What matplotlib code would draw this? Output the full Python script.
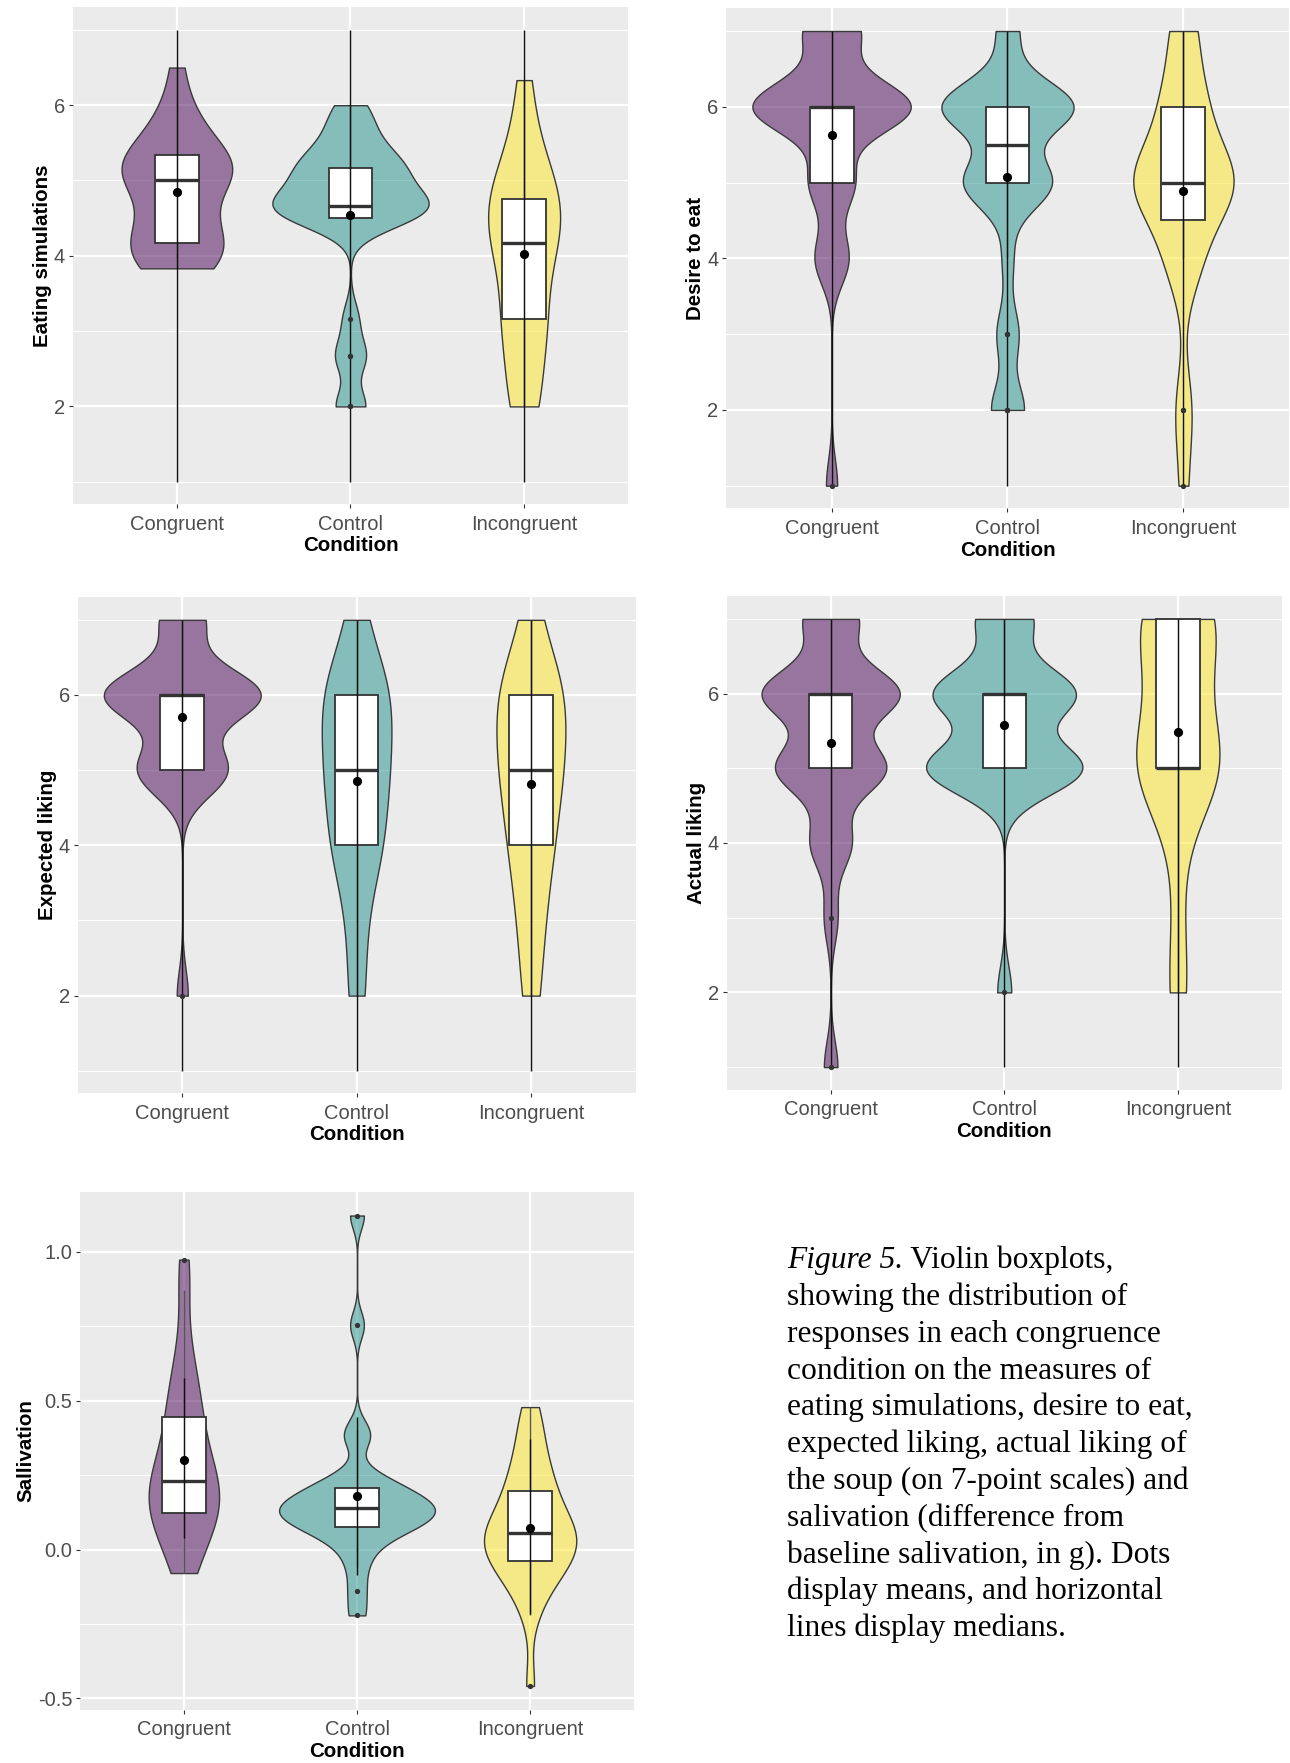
import numpy as np
import matplotlib
matplotlib.use("Agg")
import matplotlib.pyplot as plt
from matplotlib.patches import Rectangle
from matplotlib.colors import to_rgba
from matplotlib.ticker import FixedLocator, FixedFormatter

plt.rcParams["font.family"] = ["Liberation Sans", "DejaVu Sans"]

# ---------------------------------------------------------------- data
conditions = ["Congruent", "Control", "Incongruent"]
violin_fills = ["#440154", "#21908C", "#FDE725"]

# Eating simulations: mean of six items, stored as item sums (sixths)
eating_congruent = np.array([23, 23, 23, 24, 24, 25, 25, 25, 26, 27, 27, 28, 30, 30,
                             30, 30, 31, 31, 31, 32, 32, 32, 33, 34, 35, 36, 39]) / 6
eating_control = np.array([12, 12, 16, 16, 19, 27, 27, 27, 27, 28, 28, 28, 28, 28,
                           29, 29, 30, 30, 31, 31, 31, 32, 32, 33, 34, 35, 36]) / 6
eating_incongruent = np.array([12, 12, 12, 15, 16, 18, 19, 19, 20, 20, 24, 24, 25, 25,
                               25, 27, 27, 28, 28, 28, 29, 30, 31, 31, 33, 36, 38]) / 6

# 7-point scales: number of responses for each score 1..7
desire_counts = {"Congruent": [1, 0, 0, 3, 4, 14, 5],
                 "Control": [0, 3, 2, 1, 8, 12, 2],
                 "Incongruent": [1, 2, 0, 4, 12, 5, 3]}
expected_counts = {"Congruent": [0, 1, 0, 0, 8, 14, 4],
                   "Control": [0, 2, 2, 6, 7, 8, 2],
                   "Incongruent": [0, 2, 3, 5, 7, 8, 2]}
actual_counts = {"Congruent": [1, 0, 1, 3, 8, 10, 4],
                 "Control": [0, 1, 0, 0, 11, 10, 4],
                 "Incongruent": [0, 2, 1, 1, 10, 4, 9]}

# Salivation: difference from baseline (g)
saliv_congruent = np.array([-0.079, -0.04, 0.0, 0.04, 0.08, 0.11, 0.12, 0.122, 0.14,
                            0.16, 0.18, 0.2, 0.22, 0.231, 0.25, 0.28, 0.31, 0.34, 0.38,
                            0.44, 0.452, 0.5, 0.55, 0.6, 0.68, 0.87, 0.973])
saliv_control = np.array([-0.221, -0.14, -0.06, 0.0, 0.03, 0.06, 0.075, 0.077, 0.09,
                          0.1, 0.11, 0.12, 0.13, 0.138, 0.14, 0.15, 0.16, 0.17, 0.18,
                          0.2, 0.214, 0.22, 0.25, 0.37, 0.4, 0.753, 1.121])
saliv_incongruent = np.array([-0.458, -0.22, -0.15, -0.11, -0.08, -0.06, -0.045, -0.035,
                              -0.01, 0.0, 0.02, 0.035, 0.045, 0.054, 0.065, 0.08, 0.1,
                              0.12, 0.15, 0.19, 0.202, 0.23, 0.27, 0.31, 0.36, 0.42, 0.478])

# vertical summary line drawn through each violin (low, high)
likert_line_lo = [1, 1, 1]
likert_line_hi = [7, 7, 7]
saliv_line_lo = [0.037, -0.087, -0.218]
saliv_line_hi = [0.575, 0.446, 0.37]

likert_ticks = [2, 4, 6]
likert_minor = [1, 3, 5, 7]
saliv_ticks = [-0.5, 0.0, 0.5, 1.0]
saliv_minor = [-0.25, 0.25, 0.75]

caption_lines = [
    "showing the distribution of",
    "responses in each congruence",
    "condition on the measures of",
    "eating simulations, desire to eat,",
    "expected liking, actual liking of",
    "the soup (on 7-point scales) and",
    "salivation (difference from",
    "baseline salivation, in g). Dots",
    "display means, and horizontal",
    "lines display medians.",
]


def expand_counts(counts):
    return np.repeat(np.arange(1, 8), counts).astype(float)


def bw_nrd0(x):
    sd = np.std(x, ddof=1)
    q25, q75 = np.percentile(x, [25, 75])
    lo = min(sd, (q75 - q25) / 1.34)
    if lo <= 0:
        lo = sd
    return 0.9 * lo * len(x) ** -0.2


def kde(x, grid):
    bw = bw_nrd0(x)
    z = (grid[:, None] - x[None, :]) / bw
    return np.exp(-0.5 * z ** 2).sum(axis=1) / (len(x) * bw * np.sqrt(2 * np.pi))


# ---------------------------------------------------------------- figure
W, H = 1290, 1763
fig = plt.figure(figsize=(W / 100, H / 100), dpi=100)
fig.patch.set_facecolor("white")


def add_panel(left, top, right, bottom):
    return fig.add_axes([left / W, 1 - bottom / H, (right - left) / W, (bottom - top) / H])


def draw_panel(ax, groups, ylabel, line_lo, line_hi, major, minor, labels):
    grids = [np.linspace(g.min(), g.max(), 512) for g in groups]
    dens = [kde(g, y) for g, y in zip(groups, grids)]
    dmax = max(d.max() for d in dens)
    for i, (g, y, d) in enumerate(zip(groups, grids, dens)):
        x = i + 1
        half = 0.45 * d / dmax
        ax.fill_betweenx(y, x - half, x + half, facecolor=to_rgba(violin_fills[i], 0.5),
                         edgecolor="#3a3a3a", linewidth=1.0, zorder=2)
        q1, med, q3 = np.percentile(g, [25, 50, 75])
        iqr = q3 - q1
        keep = (g >= q1 - 1.5 * iqr) & (g <= q3 + 1.5 * iqr)
        inside, outl = g[keep], g[~keep]
        ax.vlines([x, x], [inside.min(), q3], [q1, inside.max()],
                  color="#555555", linewidth=1.0, zorder=3)
        ax.add_patch(Rectangle((x - 0.125, q1), 0.25, q3 - q1, facecolor="white",
                               edgecolor="#333333", linewidth=1.3, zorder=3.5))
        ax.hlines(med, x - 0.125, x + 0.125, color="#333333", linewidth=2.4, zorder=4)
        ax.vlines(x, line_lo[i], line_hi[i], color="#111111", linewidth=1.05, zorder=4.5)
        ax.plot(np.full(len(outl), x), outl, "o", ms=3.8, color="#333333",
                markeredgewidth=0, zorder=5)
        ax.plot(x, g.mean(), "o", ms=6.6, color="black", markeredgewidth=0, zorder=6)

    lo = min(min(g.min() for g in groups), min(line_lo))
    hi = max(max(g.max() for g in groups), max(line_hi))
    span = hi - lo
    ax.set_ylim(lo - 0.05 * span, hi + 0.05 * span)
    ax.set_xlim(0.4, 3.6)

    ax.set_facecolor("#EBEBEB")
    for s in ax.spines.values():
        s.set_visible(False)
    ax.set_xticks([1, 2, 3])
    ax.set_xticklabels(conditions)
    ax.yaxis.set_major_locator(FixedLocator(major))
    ax.yaxis.set_major_formatter(FixedFormatter(labels))
    ax.yaxis.set_minor_locator(FixedLocator(minor))
    ax.set_axisbelow(True)
    ax.grid(True, which="major", color="white", linewidth=1.6)
    ax.grid(True, which="minor", axis="y", color="white", linewidth=0.8)
    ax.tick_params(which="major", length=3.1, width=0.8, color="#333333",
                   labelcolor="#4D4D4D", labelsize=14.5)
    ax.tick_params(which="minor", length=0)
    ax.tick_params(axis="x", pad=4.4)
    ax.tick_params(axis="y", pad=2.4)
    ax.set_xlabel("Condition", fontweight="bold", fontsize=14.8, labelpad=2)
    ax.set_ylabel(ylabel, fontweight="bold", fontsize=14.8, labelpad=1.5)


likert_labels = [str(v) for v in likert_ticks]
saliv_labels = [f"{v:.1f}" for v in saliv_ticks]

ax1 = add_panel(72.7, 7.3, 628.3, 504.3)
draw_panel(ax1, [eating_congruent, eating_control, eating_incongruent],
           "Eating simulations", likert_line_lo, likert_line_hi,
           likert_ticks, likert_minor, likert_labels)

ax2 = add_panel(726, 8.3, 1289, 508.4)
draw_panel(ax2, [expand_counts(desire_counts[c]) for c in conditions],
           "Desire to eat", likert_line_lo, likert_line_hi,
           likert_ticks, likert_minor, likert_labels)

ax3 = add_panel(77.7, 597.3, 635.5, 1093.3)
draw_panel(ax3, [expand_counts(expected_counts[c]) for c in conditions],
           "Expected liking", likert_line_lo, likert_line_hi,
           likert_ticks, likert_minor, likert_labels)

ax4 = add_panel(726.5, 596.5, 1282, 1089.5)
draw_panel(ax4, [expand_counts(actual_counts[c]) for c in conditions],
           "Actual liking", likert_line_lo, likert_line_hi,
           likert_ticks, likert_minor, likert_labels)

ax5 = add_panel(80, 1192, 634, 1709.5)
draw_panel(ax5, [saliv_congruent, saliv_control, saliv_incongruent],
           "Sallivation", saliv_line_lo, saliv_line_hi,
           saliv_ticks, saliv_minor, saliv_labels)

# ---------------------------------------------------------------- caption
cap_font = dict(family=["Liberation Serif", "DejaVu Serif"], size=22.7, color="black")
cap_x = 786.7
base0 = 1268.3
step = 36.8
t_fig = fig.text(cap_x / W, 1 - base0 / H, "Figure 5.", style="italic",
                 va="baseline", ha="left", **cap_font)
renderer = fig.canvas.get_renderer()
bb = t_fig.get_window_extent(renderer=renderer)
fig.text(bb.x1 / W, 1 - base0 / H, " Violin boxplots,", va="baseline", ha="left", **cap_font)
for i, line in enumerate(caption_lines, start=1):
    fig.text(cap_x / W, 1 - (base0 + i * step) / H, line, va="baseline", ha="left", **cap_font)

fig.savefig("out.png", dpi=100)
